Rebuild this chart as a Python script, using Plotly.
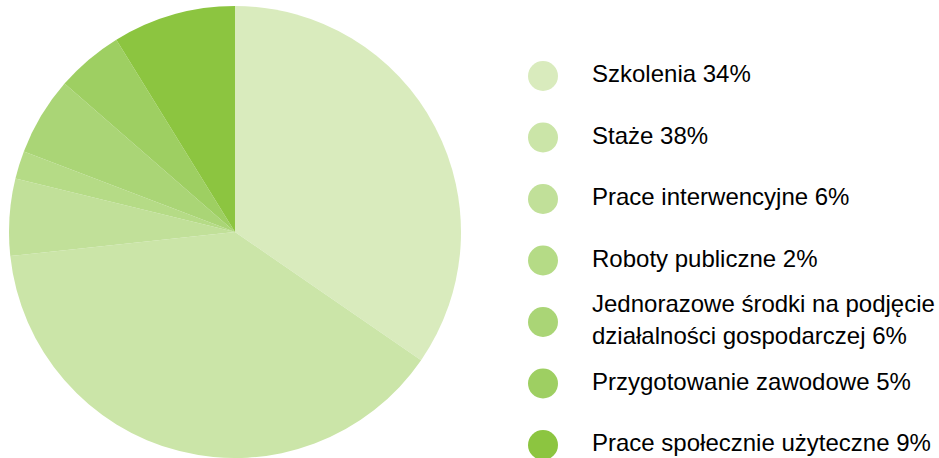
import plotly.graph_objects as go

labels = ["Szkolenia", "Staże", "Prace interwencyjne", "Roboty publiczne",
          "Jednorazowe środki na podjęcie działalności gospodarczej",
          "Przygotowanie zawodowe", "Prace społecznie użyteczne"]
legend_text = ["Szkolenia 34%", "Staże 38%", "Prace interwencyjne 6%", "Roboty publiczne 2%",
               "Jednorazowe środki na podjęcie<br>działalności gospodarczej 6%",
               "Przygotowanie zawodowe 5%", "Prace społecznie użyteczne 9%"]
values = [34.6, 38.7, 5.5, 2.0, 5.6, 4.8, 8.8]
colors = ["#d9ebbd", "#cbe5a8", "#c1e099", "#b5db86", "#aad576", "#9ecf62", "#8cc540"]

W, H = 939, 458
idx = list(range(len(labels)))

fig = go.Figure()
fig.add_trace(go.Pie(
    labels=labels, values=values, sort=False, direction="clockwise", rotation=0,
    marker=dict(colors=colors, line=dict(width=0)),
    textinfo="none", hoverinfo="label+percent", showlegend=False,
    domain=dict(x=[9 / W, 461 / W], y=[0, 1 - 6 / H]),
))
fig.add_trace(go.Scatter(
    x=[543] * len(idx), y=idx, mode="markers",
    marker=dict(size=30, color=colors, line=dict(width=0)),
    showlegend=False, hoverinfo="skip",
))
fig.add_trace(go.Scatter(
    x=[592] * len(idx), y=idx, mode="text", text=legend_text,
    textposition="middle right",
    textfont=dict(family="Liberation Sans, Arial, sans-serif", size=24, color="#000000"),
    showlegend=False, hoverinfo="skip",
))

step = 61.5
y0 = 76
fig.update_layout(
    width=W, height=H, margin=dict(l=0, r=0, t=0, b=0),
    paper_bgcolor="white", plot_bgcolor="rgba(0,0,0,0)",
    xaxis=dict(range=[0, W], visible=False, fixedrange=True),
    yaxis=dict(range=[(H - y0) / step, -y0 / step], visible=False, fixedrange=True),
)
fig.write_html("out.html", config={"displayModeBar": False})

with open("out.html", encoding="utf-8") as f:
    html = f.read()
html = html.replace("<body>", '<body style="margin:0;padding:0;overflow:hidden">', 1)
with open("out.html", "w", encoding="utf-8") as f:
    f.write(html)
